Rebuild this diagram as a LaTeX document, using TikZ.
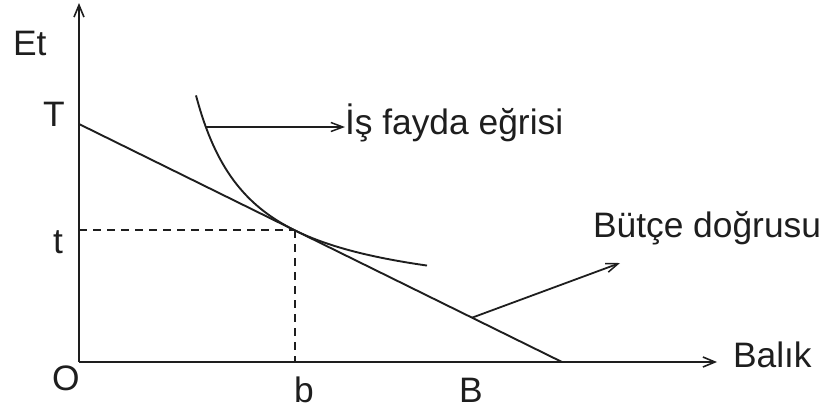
\documentclass[tikz,border=0pt]{standalone}
\usepackage{fontspec}
\setmainfont{Liberation Sans}
\usetikzlibrary{arrows.meta}
\definecolor{ink}{HTML}{1E1E1E}
\tikzset{
  lbl/.style={anchor=base west, inner sep=0pt, outer sep=0pt, text=ink,
              font=\fontsize{35.5}{42}\selectfont},
  axis/.style={draw=ink, line width=2bp, -{Straight Barb[length=12bp,width=10bp,line width=1.6bp]}},
  curveline/.style={draw=ink, line width=1.9bp},
  guide/.style={draw=ink, line width=2bp, dash pattern=on 8bp off 6bp},
  pointer/.style={draw=ink, line width=1.8bp, -{Straight Barb[length=12bp,width=9bp,line width=1.5bp]}}
}
\begin{document}
\begin{tikzpicture}[x=1bp, y=-1bp]
  \useasboundingbox (0,0) rectangle (826,410);
  % key coordinates
  \coordinate (O) at (79,362);
  \coordinate (Ytop) at (79,3);
  \coordinate (Xend) at (717,362);
  \coordinate (Tp) at (79,124);
  \coordinate (Bp) at (562,362);
  \coordinate (E) at (295,230.4);
  \coordinate (bx) at (295,362);
  \coordinate (ty) at (79,230.4);
  \coordinate (cpt) at (205.8,127);
  \coordinate (lpt) at (472,317.7);
  % labels
  \node[lbl] (Et) at (13,55) {Et};
  \node[lbl] (Tl) at (43,126) {T};
  \node[lbl] (tl) at (53,253) {t};
  \node[lbl] (Ol) at (52,390) {O};
  \node[lbl] (bl) at (294,402) {b};
  \node[lbl] (Bl) at (459,402) {B};
  \node[lbl] (balik) at (733,367) {Balık};
  \node[lbl] (fayda) at (345,134) {İş fayda eğrisi};
  \node[lbl] (butce) at (593,237) {Bütçe doğrusu};
  % axes
  \draw[axis] (O) -- (Ytop);
  \draw[axis] (O) -- (Xend);
  % budget line
  \draw[curveline] (Tp) -- (Bp);
  % indifference curve
  \draw[curveline] plot[domain=196:427, samples=120, smooth] (\x, {306.8 - 11839/(\x-140)});
  % dashed guides
  \draw[guide] (ty) -- (E);
  \draw[guide] (E) -- (bx);
  % pointers
  \draw[pointer] (cpt) -- (fayda.west |- cpt);
  \draw[pointer] (lpt) -- (620,263);
\end{tikzpicture}
\end{document}
